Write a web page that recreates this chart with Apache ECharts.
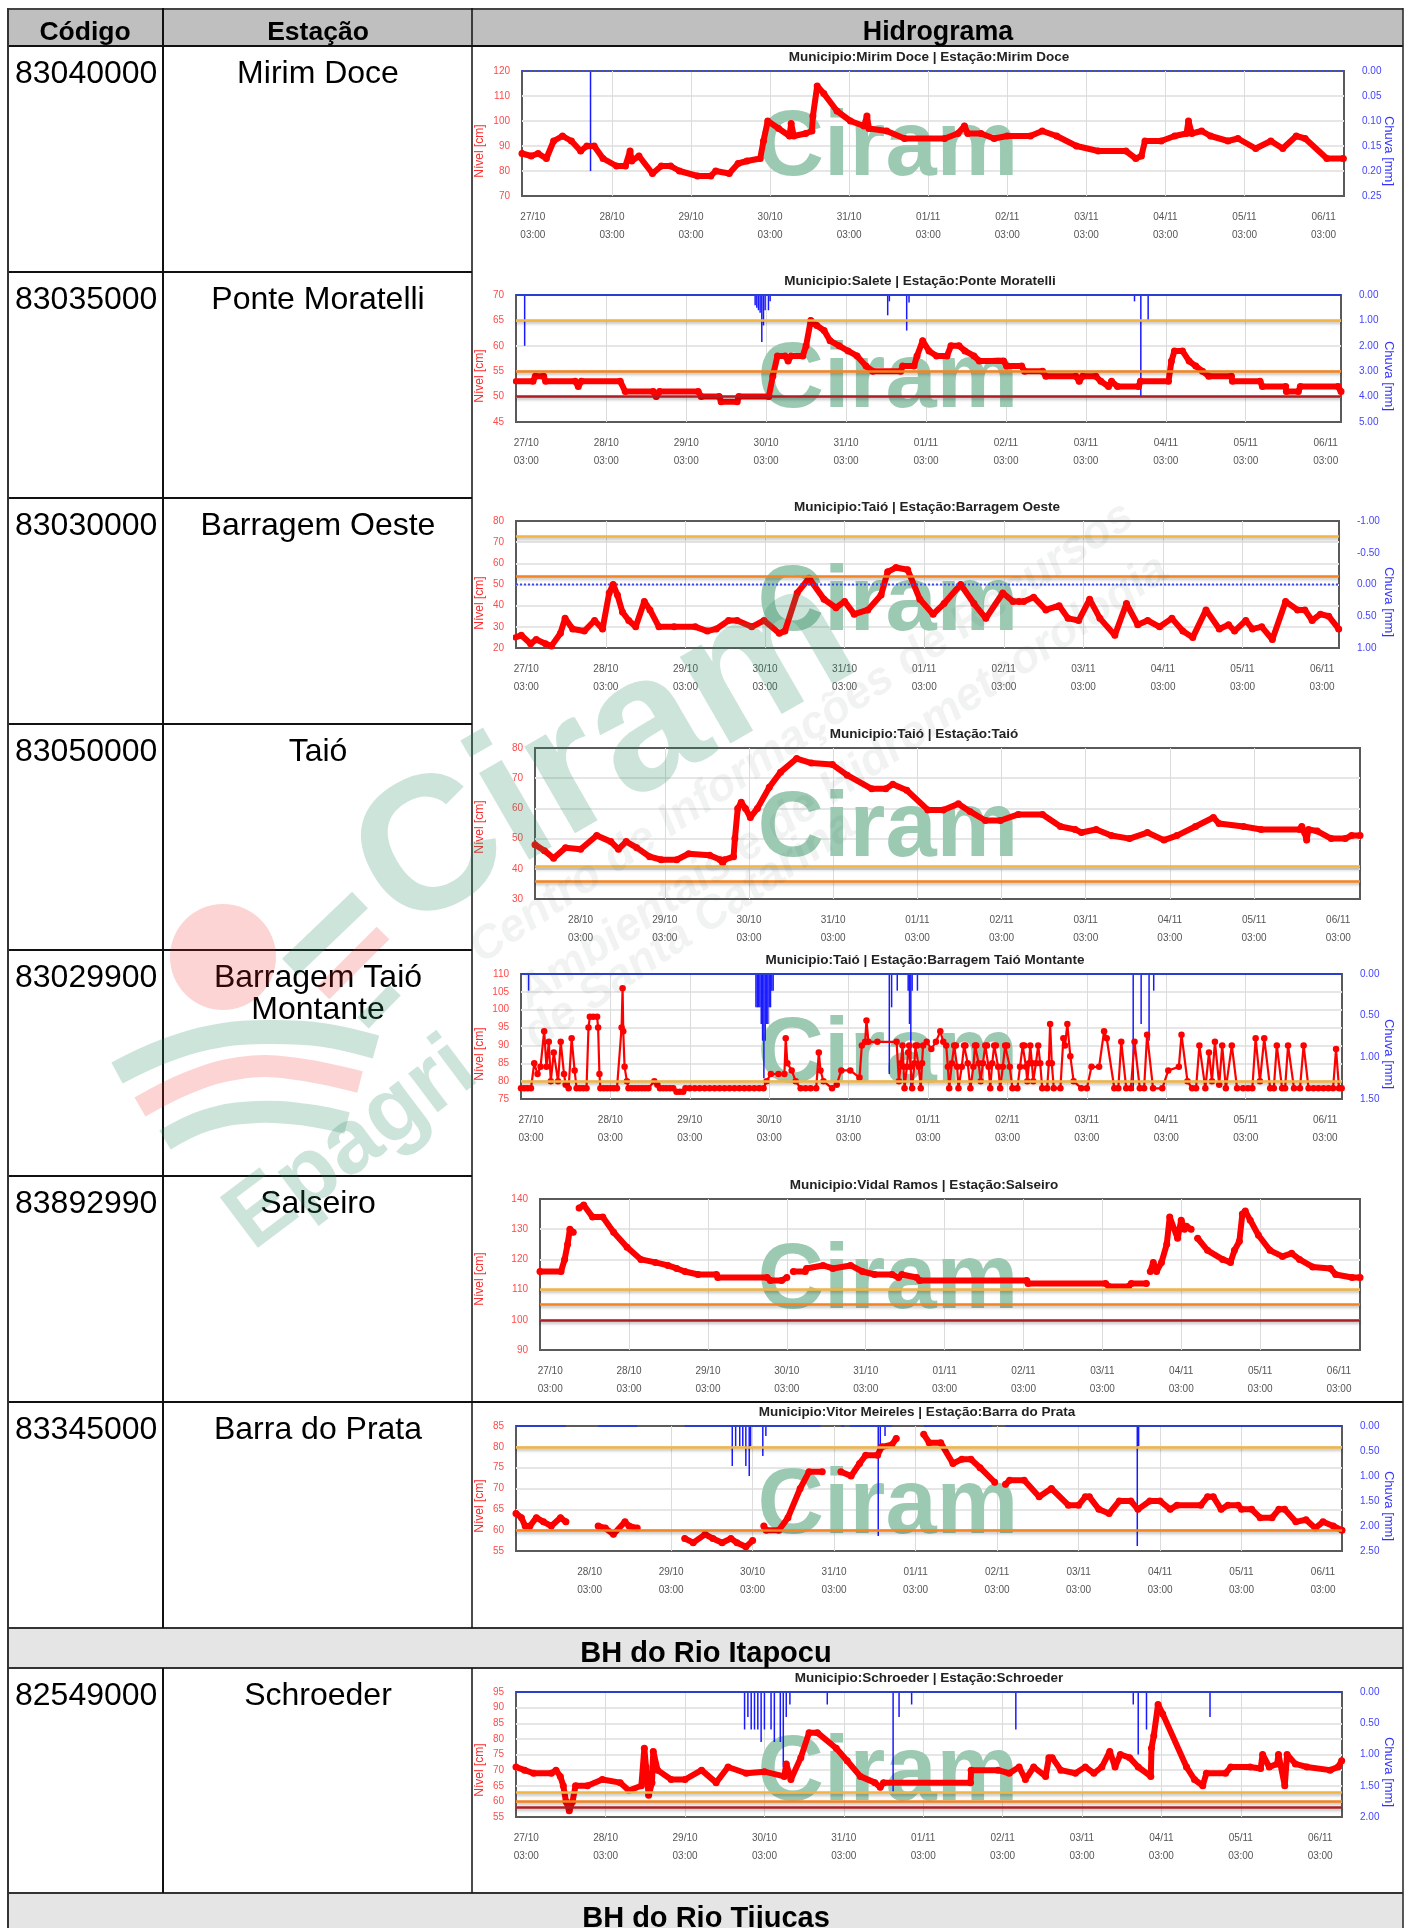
<!DOCTYPE html>
<html>
<head>
<meta charset="utf-8">
<script src="https://cdn.jsdelivr.net/npm/echarts@6/dist/echarts.min.js"></script>
<style>
  html, body { margin: 0; padding: 0; background: #fff; }
</style>
</head>
<body>
<div id="main" style="width:1407px;height:1928px;"></div>
<script>
// horas contadas a partir de 27/10 03:00
var tickHoras = [0, 24, 48, 72, 96, 120, 144, 168, 192, 216, 240];
var tickNomes = ['27/10\n03:00', '28/10\n03:00', '29/10\n03:00', '30/10\n03:00', '31/10\n03:00', '01/11\n03:00', '02/11\n03:00', '03/11\n03:00', '04/11\n03:00', '05/11\n03:00', '06/11\n03:00'];

var codigos = ['83040000', '83035000', '83030000', '83050000', '83029900', '83892990', '83345000', '82549000'];
var estacoes = ['Mirim Doce', 'Ponte Moratelli', 'Barragem Oeste', 'Taió', 'Barragem Taió\nMontante', 'Salseiro', 'Barra do Prata', 'Schroeder'];
var titulos = [
  'Municipio:Mirim Doce | Estação:Mirim Doce',
  'Municipio:Salete | Estação:Ponte Moratelli',
  'Municipio:Taió | Estação:Barragem Oeste',
  'Municipio:Taió | Estação:Taió',
  'Municipio:Taió | Estação:Barragem Taió Montante',
  'Municipio:Vidal Ramos | Estação:Salseiro',
  'Municipio:Vitor Meireles | Estação:Barra do Prata',
  'Municipio:Schroeder | Estação:Schroeder'
];

// Mirim Doce
var t1 = [-3.3,-0.5,1.6,4.1,6.3,9,11.7,14.5,16.4,18.6,21.3,25.4,28.1,29.5,30,32.2,36.3,39,41.8,44.5,50,54,55.5,59.6,62.3,65,69,70,71.3,74.6,77.9,78.4,79.2,82.8,84.7,85,86.3,88.3,92.3,96.4,100.5,101.4,102,107.4,112.8,125,129,131,132,136,140,144,151,154.6,159,165,171.6,180,183,184.7,185.8,190.7,194.8,198.4,199,200,203,205.7,211,214,219.4,224,227.6,231.7,234.4,241,246];
var n1 = [87,86,87,85,92,94,92,88,90,90,85,82,82,88,84,86,79,82,82,80,78,78,80,79,83,84,85,92,100,97,94,99,94,95,96,102,114,111,104,100,98,102,97,96,93,93,95,98,95,95,93,94,94,96,94,90,88,88,85,86,92,92,94,95,100,95,96,94,92,93,89,92,89,94,93,85,85];
var rt1 = [17.5];
var r1 = [0.2];

// Ponte Moratelli
var t2 = [-3.2,2,2.7,5.2,5.8,14.7,15.6,16.5,28.2,29.7,38.1,39,40,51.6,52.5,57.9,58.5,63.3,63.8,72.8,74,75.4,77.7,78.6,79.5,83,84,85.4,87.2,89.4,91.2,93.9,96.6,99.3,102,104,112.4,113,116.4,117.3,119,120.9,123.2,126.3,127.5,129.9,131.7,134.4,136,143.3,144.2,148.7,149.6,155,156,165,166,167,171,172.5,174.8,175.7,177.5,183.8,184.4,192.8,193.7,194.6,197,199,201,203,204.9,211.7,212,220.3,221,228,228.2,231.8,232.4,243.7,244.6];
var n2 = [53,53,54,54,53,53,52,53,53,51,51,50,51,51,50,50,49,49,50,50,54,58,58,57,58,58,60,65,64,63,61,60,59,58,56,55,55,56,56,58,61,59,58,58,60,60,59,58,57,57,56,56,55,55,54,54,53,54,54,53,52,53,52,52,53,53,57,59,59,57,56,55,54,54,53,53,52,52,51,51,52,52,51];
var rt2 = [-0.5,68.7,69.2,69.7,70.2,70.7,71.2,71.7,72.7,73.2,108.5,109,114.2,114.9,182.6,184.5,186.7];
var r2 = [2,0.4,0.5,0.6,0.7,1.85,1.2,0.6,0.6,0.25,0.8,0.25,1.4,0.3,0.25,4,1];

// Barragem Oeste
var t3 = [-3.3,-1.5,1.3,3,5.8,7.6,10.3,11.7,14,17.5,20.6,23,25,26.2,27.5,29,30.9,33,35.6,37.3,40,44.6,51,54.6,57.3,61,63.6,68,71.7,76.3,78,81.7,85.3,89.8,93.4,96,98.9,103,107,109,111.5,115,118.7,122.7,126,131,135,138.6,143.7,146.8,148.6,150,153,156.7,160.7,163.4,166.6,169.9,173,177.5,181,184.4,187.4,191,194.7,198,201,205,209,211.8,213.6,217,219,221.8,225,229,232.6,234.8,237,239.5,242,245];
var n3 = [25,26,22,24,22,21,27,34,29,28,33,29,46,50,45,37,33,30,42,38,30,30,30,28,29,33,33,30,33,27,28,46,53,43,39,42,36,38,45,56,58,57,43,36,41,50,41,34,46,42,42,42,44,38,40,34,33,43,34,26,41,31,33,30,34,28,25,38,29,31,28,33,29,30,24,42,38,38,33,36,35,29];

// Taió
var t4 = [11,13.7,16.3,19.7,24,28.6,32.6,34.8,37,40,43.7,47,51.4,54.8,60.8,63.8,64.5,65,67.6,68,68.8,69.8,71,72.4,74.4,77.8,81,85.6,89.8,95.8,100,107,111,113,117,123,127.4,131.7,135,139.4,143.7,148.8,155.7,160.8,165,166.8,171,175.3,180.5,185.6,190.3,194,199.3,204.4,206,213,218,229,229.6,230.4,231,231.5,234,238,242,243.8,246.2];
var n4 = [48,46,43.5,47,46.5,51,49,46.5,49,47,44,43,43,45,44.5,43,42,43,44,50,60,62,60,57,60,67,72,76.5,75,74.5,71,66.5,66.5,68,66,59.5,59.5,61.5,59,56,56,58,58,54,53,52,53,51,50,52,49.5,51,54,57,55,54,53,53,54,52,49.5,53,52.5,50,50,51,51];

// Barragem Taió Montante
var t5 = [-3,-2,-1,0,1,2,2.9,4,4.7,5.4,6,6.9,8.2,9,10,10.5,11.4,12.3,13.2,13.8,14.8,15.8,16.8,17.4,17.8,18.8,20,20.3,20.7,21,22,23,24,25,26,27.4,27.7,27.9,28.3,29,29.5,30.5,31.5,32.5,33.5,34.5,35.5,37.3,38.2,39,40,41,42,43,44,45,46,46.7,48,49.5,51,52.5,54,55.5,57,58.5,60,61.5,63,64.5,66,67.5,69,70.3,71.2,72.5,74.8,76.6,77,77.5,78.8,80,81.5,83,84.5,86.2,87,87.5,88.4,91,92.4,93.8,96.5,99.3,100,101,101.4,102,104.7,110.5,
  111.2,111.8,112.3,112.6,112.9,113.6,114,114.3,114.7,115.2,
  115.9,116.2,116.7,117.2,117.8,118.2,118.5,119.6,121,122.4,
  123.7,124.6,125.5,126,126.4,127.2,127.9,128.4,128.8,129.2,
  130.2,130.9,131.3,132,132.8,133.7,134.2,134.6,135.3,135.9,
  136.6,137.3,137.8,138.3,138.8,139.4,140,140.5,141.2,141.8,
  142.6,143.3,143.9,144.7,145.5,147,147.8,148.6,149.1,149.6,
  150,150.5,150.9,151.4,151.8,152.6,153.3,153.9,154.5,156,
  156.5,156.9,157.4,158,160,160.9,161.4,162.1,163,164,
  166.3,168,169.4,171.7,173.2,174,176.3,177.5,178.4,179.9,181.3,182.4,184,185.3,186.2,188,190.8,192.6,195.8,196.6,198.4,199.8,201,202,203.8,204.9,205.8,206.7,208,208.9,210,211.8,213.4,215.2,216.7,218,219,220.3,221.6,223.4,224.5,225.4,227,227.9,228.8,230.6,232.4,233.5,235,236.5,238,239.5,241,242.4,243.3,244.2,245];
var n5 = [78,78,78,78,85,82,84,94,84,91,80,88,80,91,82,79,78,92,83,78,78,78,78,95,98,98,98,95,82,78,78,78,78,78,78,95,106,94,84,80,78,78,78,78,78,78,78,80,79,78,78,78,78,78,77,77,77,78,78,78,78,78,78,78,78,78,78,78,78,78,78,78,78,78,80,82,82,82,92,85,83,80,78,78,78,78,88,83,80,78,79,83,83,81,90,91,97,91,91,91,
  80,85,90,84,78,84,88,90,84,78,
  85,90,90,84,78,85,90,91,89,91,
  94,91,90,84,78,85,90,90,84,78,
  84,90,90,85,78,84,90,90,85,80,
  85,90,90,84,78,85,90,90,84,78,
  84,90,90,84,78,78,84,90,90,84,
  80,85,90,85,80,85,90,85,78,78,
  85,96,85,78,78,92,90,96,87,80,
  78,78,84,84,94,92,78,78,91,78,78,91,78,78,93,78,78,83,84,93,80,78,78,90,78,88,80,91,79,90,78,90,78,78,78,78,92,80,92,78,78,90,78,78,90,78,78,90,78,78,78,78,78,78,89,78,78];
var rt5 = [-0.7,68,68.4,68.8,69.2,69.6,70,70.4,70.8,71.2,71.6,72,72.4,72.8,73.2,108.3,109,110.7,114,114.4,114.8,115.2,116.8,182,184.4,186.8,188.2];
var r5 = [0.2,0.4,0.4,0.4,0.4,0.6,0.8,1.25,0.8,0.6,0.6,0.4,0.4,0.2,0.2,1.2,0.4,0.2,0.2,0.6,1.4,0.2,0.2,1.4,0.6,0.8,0.2];

// Salseiro
var t6 = [-3.1,3.3,4.4,5.3,6,7,7.5,8.8,10.2,12.9,16,19.3,23.4,27.6,32,35.8,38.5,41,45,50.6,51,66,67,70.4,72,73,74,77.6,78,83,86,91.4,95,98.7,104,106,107,111.5,112.4,145,145.4,169,170,176,176.8,181.4,182,182.6,183.5,184.5,186,187.6,188.5,190.9,192,193,193.6,195,196,197,200,204.6,207,208.2,209.7,210.6,211.5,213,215.5,219,222.8,225.6,228,232,237.4,239,244,246.4];
var n6 = [116,116,120,125,130,129,null,137,138,134,134,129,124,120,119,118,117,116,115,115,114,114,113,113,114,null,116,116,117,118,117,118,116,115,115,114,115,114,113,113,112,112,111,111,112,112,null,116,119,116,119,125,134,127,133,130,131,130,null,127,123,120,119,123,126,135,136,133,128,123,121,122,120,117.5,117,115,114,114];

// Barra do Prata
var t7 = [2.3,3.9,5,6.4,8.3,10.4,12.7,15.4,17,20,26.5,28.6,31,34.4,35.6,38,45,52,54.5,58,60.3,63,65.6,67.4,70,72,74,75.3,76,79.7,82.4,86,88.6,92.5,95,98,101,103.5,105.3,108.8,110,113,114.3,118,122.4,124,127.4,131,133.6,136.3,139,143.3,145,146.5,147.7,152,156.4,160,165,168,170,171.2,174,177,180,183.4,185.5,189,192,195,197,204,206,207.7,210,212,215,216,219,221.5,225,227,228.7,232,235,237.7,240,243,245.6];
var n7 = [64,63,61,61,63,62,61,63,62,null,61,60.5,59,62,61,60.5,null,58,57,59,58,57,58,57,56,57.5,null,61,60,60,63,70,74,74,null,74,73,76,78,78,80,80.5,82,null,83,81,81,76,77,77,75,71.5,null,71,72,72,68,70,66,66,68,68,65,64,67,67,65,67,67,65,66,66,68,68,65,66,66,65,65,63,63,65,65,62,62.5,60.5,62,61,60];
var rt7 = [66,67,68.2,69.1,70,71,71.4,75,75.9,109,109.6,111,185.3,185.7];
var r7 = [0.8,0.4,0.4,0.4,0.8,1,0.4,0.6,0.2,2.2,0.4,0.2,2.4,0.4];
var baseChuva7 = [[2.3,17],[26.5,38],[52,92],[98,99],[100.6,113],[122.4,142.4],[146.5,245.6]];

// Schroeder
var t8 = [-3.1,-0.5,2.2,7.6,9,10.3,11.2,12,13,14,14.9,18.5,23,28.4,31,34.8,35.7,36.2,37,38,38.4,39.7,43.8,48,53,57.4,61,66.5,72,78,78.6,80,83,85.5,88,93.7,97,101,105.4,107,108,134.3,134.5,142.6,146,149,150.9,153.4,157,158,159,161.6,166,169,171.6,174,176.4,178,179.6,182.4,185,188.8,189,189.7,191,192.4,199.6,202,204.5,205.6,211.4,213,218.8,222,222.6,224.6,227,227.4,229.3,230,232.5,236,243,245.4,246.5];
var n8 = [71,70,69,69,70,68,65,60,57,60,65,65,67,66,63.5,65,77,71,62,66,76,70,67,67,70,66,71,69,69.5,68,72,67,74,82,82,77,73,68,66,64.5,66,66,70,70,69,71,67,71,68,74,74,70,69,71,69,71,76,71,75,74,71,68,77,81,91,88,71,67,65,69,69,71,71,70.5,75,71,72,75,65,75,72,71,70,71,73];
var rt8 = [66,67,68,69,70,71,72,74,75,76.8,77.7,78.6,79.7,91,110.9,112.7,116.5,148,183.5,185,187.5,206.7];
var r8 = [0.6,0.4,0.6,0.6,0.6,0.8,0.6,0.6,0.8,0.8,1.2,0.4,0.2,0.2,1.6,0.4,0.2,0.6,0.2,1,0.6,0.4];

// cotas de alerta de cada estação, na ordem amarelo, laranja, vermelho
var cotas1 = [];
var cotas2 = [65, 55, 50];
var cotas3 = [73, 54];
var cotas4 = [41, 36];
var cotas5 = [80];
var cotas6 = [110, 105, 100];
var cotas7 = [80, 60];
var cotas8 = [63, 60, 58];
var corCotas = ['#f2b544', '#f5831f', '#ad1f24'];

// left/right/top/bottom da área do gráfico, faixa de horas, eixos
var layouts = [
  {l: 522, r: 1344, t: 71, b: 196, titX: 929, xMin: -3.3, xMax: 246.2, yMin: 70, yMax: 120, yStep: 10, cMin: 0, cMax: 0.25, cStep: 0.05, ponto: true, firstTick: 0, hT: t1, hN: n1, rT: rt1, rV: r1, cotas: cotas1, nomeY: 151, chuvaY: 151, ciramY: 150},
  {l: 516, r: 1341, t: 295, b: 422, titX: 920, xMin: -3.1, xMax: 244.6, yMin: 45, yMax: 70, yStep: 5, cMin: 0, cMax: 5, cStep: 1, firstTick: 0, hT: t2, hN: n2, rT: rt2, rV: r2, cotas: cotas2, nomeY: 376, chuvaY: 376, ciramY: 382},
  {l: 516, r: 1339, t: 521, b: 648, titX: 927, xMin: -3.1, xMax: 245.1, yMin: 20, yMax: 80, yStep: 10, cMin: -1, cMax: 1, cStep: 0.5, ponto: true, firstTick: 0, hT: t3, hN: n3, rT: [], rV: [], cotas: cotas3, nomeY: 603, chuvaY: 602, ciramY: 605},
  {l: 535, r: 1360, t: 748, b: 899, titX: 924, xMin: 11, xMax: 246.2, yMin: 30, yMax: 80, yStep: 10, firstTick: 1, hT: t4, hN: n4, cotas: cotas4, nomeY: 827, ciramY: 831},
  {l: 521, r: 1342, t: 974, b: 1099, titX: 925, xMin: -3, xMax: 245.1, yMin: 75, yMax: 110, yStep: 5, cMin: 0, cMax: 1.5, cStep: 0.5, fino: true, firstTick: 0, hT: t5, hN: n5, rT: rt5, rV: r5, cotas: cotas5, nomeY: 1054, chuvaY: 1054, ciramY: 1057},
  {l: 540, r: 1360, t: 1199, b: 1350, titX: 924, xMin: -3.1, xMax: 246.4, yMin: 90, yMax: 140, yStep: 10, firstTick: 0, hT: t6, hN: n6, cotas: cotas6, nomeY: 1279, ciramY: 1283},
  {l: 516, r: 1342, t: 1426, b: 1551, titX: 917, xMin: 2.3, xMax: 245.6, yMin: 55, yMax: 85, yStep: 5, cMin: 0, cMax: 2.5, cStep: 0.5, firstTick: 1, hT: t7, hN: n7, rT: rt7, rV: r7, base: baseChuva7, cotas: cotas7, nomeY: 1506, chuvaY: 1506, ciramY: 1508},
  {l: 516, r: 1342, t: 1692, b: 1817, titX: 929, xMin: -3.1, xMax: 246.6, yMin: 55, yMax: 95, yStep: 5, cMin: 0, cMax: 2, cStep: 0.5, firstTick: 0, hT: t8, hN: n8, rT: rt8, rV: r8, cotas: cotas8, nomeY: 1770, chuvaY: 1772, ciramY: 1775}
];

function juntar(xs, ys) {
  var out = [];
  for (var i = 0; i < xs.length; i++) out.push([xs[i], ys[i]]);
  return out;
}

var fonte = '"Liberation Sans", Arial, sans-serif';
var grids = [], xAxes = [], yAxes = [], series = [], titles = [];

layouts.forEach(function (c, i) {
  var ticks = tickHoras.slice(c.firstTick);
  grids.push({
    left: c.l, top: c.t, width: c.r - c.l, height: c.b - c.t,
    show: true, borderColor: '#5a5a5a', borderWidth: 2, backgroundColor: 'transparent'
  });
  titles.push({
    text: titulos[i], left: c.titX, top: c.t - 21, textAlign: 'center', padding: 0,
    textStyle: {fontFamily: fonte, fontSize: 13.5, fontWeight: 'bold', color: '#222'}
  });
  xAxes.push({
    type: 'value', gridIndex: i, min: c.xMin, max: c.xMax,
    axisLine: {show: false},
    axisTick: {show: false, customValues: ticks},
    splitLine: {show: true, showMinLine: false, showMaxLine: false, lineStyle: {color: '#dcdcdc', width: 1}},
    axisLabel: {
      customValues: ticks, margin: 12, lineHeight: 18, color: '#555',
      fontFamily: fonte, fontSize: 10, hideOverlap: false,
      formatter: function (v) { return tickNomes[tickHoras.indexOf(v)]; }
    }
  });
  var yLeft = yAxes.length;
  yAxes.push({
    type: 'value', gridIndex: i, min: c.yMin, max: c.yMax, interval: c.yStep,
    axisLine: {show: false}, axisTick: {show: false},
    splitLine: {showMinLine: false, showMaxLine: false, lineStyle: {color: '#e6e6e6', width: 2}},
    axisLabel: {color: '#ff4a4a', fontFamily: fonte, fontSize: 10, margin: 12}
  });
  series.push({
    type: 'line', xAxisIndex: i, yAxisIndex: yLeft,
    data: juntar(c.hT, c.hN), connectNulls: false,
    symbol: 'circle', symbolSize: c.fino ? 6.5 : 7, showAllSymbol: true,
    lineStyle: {color: '#ff0000', width: c.fino ? 2.2 : 6, cap: 'round', join: 'round'},
    itemStyle: {color: '#ff0000'},
    silent: true, animation: false,
    markLine: {
      silent: true, symbol: 'none', animation: false, label: {show: false},
      lineStyle: {type: 'solid', width: 2.5, shadowColor: 'rgba(0,0,0,0.28)', shadowBlur: 3, shadowOffsetY: 2},
      data: c.cotas.map(function (v, k) { return {yAxis: v, lineStyle: {color: corCotas[k]}}; })
    }
  });
  if (c.cMax !== undefined) {
    var yRight = yAxes.length;
    yAxes.push({
      type: 'value', gridIndex: i, position: 'right', inverse: true,
      min: c.cMin, max: c.cMax, interval: c.cStep,
      axisLine: {show: false}, axisTick: {show: false}, splitLine: {show: false},
      axisLabel: {
        color: '#4444ff', fontFamily: fonte, fontSize: 10, margin: 18,
        formatter: function (v) { return v.toFixed(2); }
      }
    });
    if (c.rT.length) {
      series.push({
        type: 'bar', xAxisIndex: i, yAxisIndex: yRight, barWidth: 1.5,
        data: juntar(c.rT, c.rV), itemStyle: {color: '#1a1aff'},
        silent: true, animation: false
      });
    }
    // linha do zero da chuva
    var spans = c.base || [[c.xMin, c.xMax]];
    var zero = [];
    spans.forEach(function (s) {
      zero.push([s[0], 0], [s[1], 0], [s[1], null]);
    });
    series.push({
      type: 'line', xAxisIndex: i, yAxisIndex: yRight, data: zero, showSymbol: false,
      lineStyle: {color: c.ponto ? '#3a4be8' : '#2a3fd0', width: 2, type: c.ponto ? 'dotted' : 'solid'},
      clip: false, silent: true, animation: false
    });
  }
});

// ---- tabela ----
var linhas = [], X0 = 8, XC = 163, XE = 472, XF = 1403;

function hline(y, x1, x2, w, cor) {
  return {type: 'line', z: 3, silent: true, shape: {x1: x1, y1: y, x2: x2, y2: y}, style: {stroke: cor || '#111', lineWidth: w || 2}};
}
function vline(x, y1, y2, w, cor) {
  return {type: 'line', z: 3, silent: true, shape: {x1: x, y1: y1, x2: x, y2: y2}, style: {stroke: cor || '#111', lineWidth: w || 2}};
}
function texto(t, x, y, font, align, cor, rot, z) {
  return {type: 'text', x: x, y: y, rotation: rot || 0, z: z || 4, silent: true,
    style: {text: t, font: font, fill: cor || '#000', align: align || 'center', verticalAlign: 'middle', lineHeight: 32}};
}

linhas.push({type: 'rect', z: 0, silent: true, shape: {x: X0, y: 8, width: XF - X0, height: 38}, style: {fill: '#bfbfbf'}});
linhas.push({type: 'rect', z: 0, silent: true, shape: {x: X0, y: 1628, width: XF - X0, height: 40}, style: {fill: '#e6e5e6'}});
linhas.push({type: 'rect', z: 0, silent: true, shape: {x: X0, y: 1893, width: XF - X0, height: 35}, style: {fill: '#e6e5e6'}});

linhas.push(hline(9, X0, XF, 2, '#444'));
linhas.push(hline(46, X0, XF, 2));
[272, 498, 724, 950, 1176].forEach(function (y) { linhas.push(hline(y, X0, XE, 2)); });
linhas.push(hline(1402, X0, XF, 2));
linhas.push(hline(1628, X0, XF, 2, '#333'));
linhas.push(hline(1668, X0, XF, 2, '#333'));
linhas.push(hline(1893, X0, XF, 2, '#333'));
linhas.push(vline(X0, 8, 1928, 2, '#333'));
linhas.push(vline(XC, 8, 1628, 2));
linhas.push(vline(XC, 1668, 1893, 2));
linhas.push(vline(XE, 8, 1628, 1.5));
linhas.push(vline(XE, 1668, 1893, 1.5));
linhas.push(vline(XF, 8, 1928, 1.5, '#222'));

linhas.push(texto('Código', 85, 33, 'bold 26.5px ' + fonte));
linhas.push(texto('Estação', 318, 33, 'bold 26.5px ' + fonte));
linhas.push(texto('Hidrograma', 938, 33, 'bold 26.8px ' + fonte));
linhas.push(texto('BH do Rio Itapocu', 706, 1654, 'bold 29px ' + fonte));
linhas.push(texto('BH do Rio Tijucas', 706, 1919, 'bold 29px ' + fonte));

var topoLinha = [46, 272, 498, 724, 950, 1176, 1402, 1668];
codigos.forEach(function (c, i) {
  linhas.push(texto(c, 15, topoLinha[i] + 28, '32px ' + fonte, 'left'));
  var dy = estacoes[i].indexOf('\n') >= 0 ? 44 : 28;
  linhas.push(texto(estacoes[i], 318, topoLinha[i] + dy, '32px ' + fonte));
});

// títulos dos eixos e marca d'água Ciram de cada gráfico
layouts.forEach(function (c) {
  linhas.push(texto('Nível [cm]', 480, c.nomeY, '12px ' + fonte, 'center', '#ff2a2a', Math.PI / 2));
  if (c.chuvaY) linhas.push(texto('Chuva [mm]', 1389, c.chuvaY, '13px ' + fonte, 'center', '#3333ff', -Math.PI / 2));
  linhas.push({
    type: 'text', x: 888, y: c.ciramY, z: 1, silent: true,
    style: {text: 'Ciram', font: 'bold 92px ' + fonte, fill: '#9cc9b2', align: 'center', verticalAlign: 'middle',
      shadowColor: 'rgba(0,0,0,0.25)', shadowBlur: 4, shadowOffsetX: 3, shadowOffsetY: 5}
  });
});

// ---- marca d'água grande, por cima de tudo ----
var verdeW = 'rgba(40,140,100,0.23)', vermW = 'rgba(240,40,40,0.2)', cinzaW = 'rgba(70,100,85,0.08)';
function faixa(pts, w, cor, smooth) {
  return {type: 'polyline', z: 100, silent: true, shape: {points: pts, smooth: smooth || 0},
    style: {stroke: cor, lineWidth: w, fill: 'none', lineCap: 'butt'}};
}
var RAD = Math.PI / 180;
linhas.push({type: 'circle', z: 100, silent: true, shape: {cx: 223, cy: 957, r: 53}, style: {fill: vermW}});
linhas.push(faixa([[290, 967], [360, 900]], 23, verdeW));
linhas.push(faixa([[323, 993], [383, 933]], 18, vermW));
linhas.push(faixa([[363, 1023], [395, 990]], 16, verdeW));
linhas.push(faixa([[117, 1073], [167, 1050], [223, 1035], [273, 1032], [323, 1035], [376, 1047]], 24, verdeW, 0.4));
linhas.push(faixa([[140, 1107], [190, 1082], [240, 1068], [290, 1068], [360, 1082]], 22, vermW, 0.4));
linhas.push(faixa([[165, 1140], [207, 1120], [257, 1112], [307, 1115], [347, 1123]], 22, verdeW, 0.4));
linhas.push(texto('Epagri', 352, 1145, 'bold 92px ' + fonte, 'center', verdeW, 37 * RAD, 100));
linhas.push(texto('Ciram', 606, 755, 'bold 190px ' + fonte, 'center', verdeW, 30 * RAD, 100));
linhas.push(texto('Centro de Informações de Recursos', 802, 733, 'italic bold 46px ' + fonte, 'center', cinzaW, 34 * RAD, 100));
linhas.push(texto('Ambientais e de Hidrometeorologia', 843, 782, 'italic bold 46px ' + fonte, 'center', cinzaW, 34 * RAD, 100));
linhas.push(texto('de Santa Catarina', 690, 930, 'italic bold 46px ' + fonte, 'center', cinzaW, 34 * RAD, 100));

var myChart = echarts.init(document.getElementById('main'), null, {renderer: 'canvas'});
myChart.setOption({
  animation: false,
  backgroundColor: '#fff',
  title: titles,
  grid: grids,
  xAxis: xAxes,
  yAxis: yAxes,
  series: series,
  graphic: {elements: linhas}
});
</script>
</body>
</html>
